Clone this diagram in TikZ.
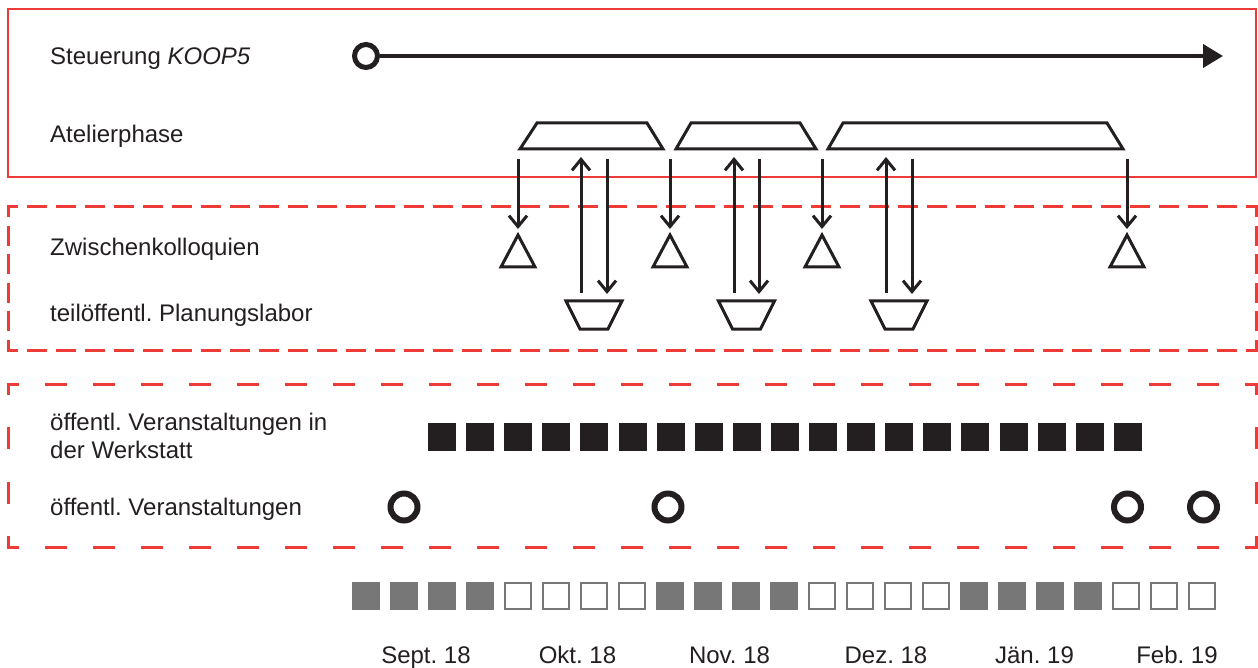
\documentclass[tikz,border=0pt]{standalone}
\usepackage{fontspec}
\setmainfont{Liberation Sans}
\frenchspacing
\usetikzlibrary{arrows.meta}
\definecolor{ink}{HTML}{231F20}
\definecolor{redline}{RGB}{237,60,56}
\definecolor{monthgray}{HTML}{777777}
\tikzset{
  lbl/.style={anchor=base west, inner sep=0pt, text=ink, font=\fontsize{24}{28}\selectfont},
  mlbl/.style={anchor=base, inner sep=0pt, text=ink, font=\fontsize{24}{28}\selectfont},
  shapeline/.style={draw=ink, line width=3pt, line join=miter},
  arr/.style={draw=ink, line width=3pt, -{Straight Barb[length=11pt,width=18pt,line width=3pt]}},
  solidbox/.style={draw=redline, line width=2.5pt},
  redside/.style={draw=redline, line width=3pt},
  hdenseside/.style={redside, dash pattern=on 20pt off 9.0233pt, dash phase=8.5pt},
  vdenseside/.style={redside, dash pattern=on 20pt off 8.6pt, dash phase=8.5pt},
  hsparseside/.style={redside, dash pattern=on 22pt off 26pt, dash phase=9.5pt},
  vsparseside/.style={redside, dash pattern=on 22pt off 32.333pt, dash phase=9.5pt},
  blacksq/.style={fill=ink, draw=none, minimum size=28pt, inner sep=0pt},
  graysq/.style={fill=monthgray, draw=none, minimum size=28pt, inner sep=0pt},
  emptysq/.style={draw=monthgray, line width=2pt, minimum size=26pt, inner sep=0pt},
  evt/.style={circle, draw=ink, line width=6pt, minimum size=27pt, inner sep=0pt},
}
\begin{document}
\begin{tikzpicture}[x=1pt, y=-1pt]
\useasboundingbox[fill=white] (0,0) rectangle (1258,668);

% frames
\draw[solidbox] (8,9) rectangle (1256,177);
% dashed frame 1 (y 207..350)
\draw[hdenseside] (6.5,207) -- (1257.5,207);
\draw[hdenseside] (6.5,350) -- (1257.5,350);
\draw[vdenseside] (8,205.5) -- (8,351.5);
\draw[vdenseside] (1256,205.5) -- (1256,351.5);
% dashed frame 2 (y 384..547)
\draw[hsparseside] (6.5,384) -- (1257.5,384);
\draw[hsparseside] (6.5,547) -- (1257.5,547);
\draw[vsparseside] (8,382.5) -- (8,548.5);
\draw[vsparseside] (1256,382.5) -- (1256,548.5);

% labels
\node[lbl] (l1) at (50,65) {Steuerung \textit{KOOP5}};
\node[lbl] (l2) at (50,143) {Atelierphase};
\node[lbl] (l3) at (50,256) {Zwischenkolloquien};
\node[lbl] (l4) at (50,321) {teilöffentl. Planungslabor};
\node[lbl] (l5) at (50,430) {öffentl. Veranstaltungen in};
\node[lbl] (l6) at (50,458) {der Werkstatt};
\node[lbl] (l7) at (50,515) {öffentl. Veranstaltungen};

% Steuerung line
\node[circle, draw=ink, line width=5pt, minimum size=23pt, inner sep=0pt] (sc) at (366,56) {};
\coordinate (se) at (1223,56);
\draw[draw=ink, line width=4pt, -{Triangle[length=20pt,width=23pt]}] (sc) -- (se);

% Atelier phases
\draw[shapeline] (520,149) -- (537,123) -- (647,123) -- (663,149) -- cycle;
\draw[shapeline] (676,149) -- (691,123) -- (800,123) -- (816,149) -- cycle;
\draw[shapeline] (828,149) -- (843,123) -- (1107,123) -- (1123,149) -- cycle;

% Zwischenkolloquien triangles and arrows
\foreach \i/\cx in {1/518, 2/670, 3/822, 4/1127} {
  \draw[shapeline] (\cx,235) -- (\cx+17,267) -- (\cx-17,267) -- cycle;
  \coordinate (zs\i) at (\cx,159);
  \coordinate (ze\i) at (\cx,229);
  \draw[arr] (zs\i) -- (ze\i);
}

% Planungslabor trapezoids and arrow pairs
\foreach \i/\ux/\dx/\cx in {1/581/607/594, 2/734/759/746.5, 3/886/912/899} {
  \draw[shapeline] (\cx-28,301) -- (\cx+28,301) -- (\cx+14,329) -- (\cx-14,329) -- cycle;
  \coordinate (us\i) at (\ux,293);
  \coordinate (ue\i) at (\ux,157);
  \coordinate (ds\i) at (\dx,159);
  \coordinate (de\i) at (\dx,294);
  \draw[arr] (us\i) -- (ue\i);
  \draw[arr] (ds\i) -- (de\i);
}

% public events in the workshop
\foreach \k in {0,...,18} {
  \node[blacksq] (w\k) at (442+38.1*\k,437) {};
}

% public events
\node[evt] (e1) at (404,507) {};
\node[evt] (e2) at (668,507) {};
\node[evt] (e3) at (1127.5,507) {};
\node[evt] (e4) at (1203.5,507) {};

% month timeline
\foreach \k in {0,...,3,8,9,10,11,16,17,18,19} {
  \node[graysq] (m\k) at (366+38*\k,596) {};
}
\foreach \k in {4,5,6,7,12,13,14,15,20,21,22} {
  \node[emptysq] (m\k) at (366+38*\k,596) {};
}

\node[mlbl] (sep) at (426,663) {Sept. 18};
\node[mlbl] (okt) at (577.5,663) {Okt. 18};
\node[mlbl] (nov) at (729.5,663) {Nov. 18};
\node[mlbl] (dez) at (886,663) {Dez. 18};
\node[mlbl] (jan) at (1034.5,663) {Jän. 19};
\node[mlbl] (feb) at (1177,663) {Feb. 19};
\end{tikzpicture}
\end{document}
